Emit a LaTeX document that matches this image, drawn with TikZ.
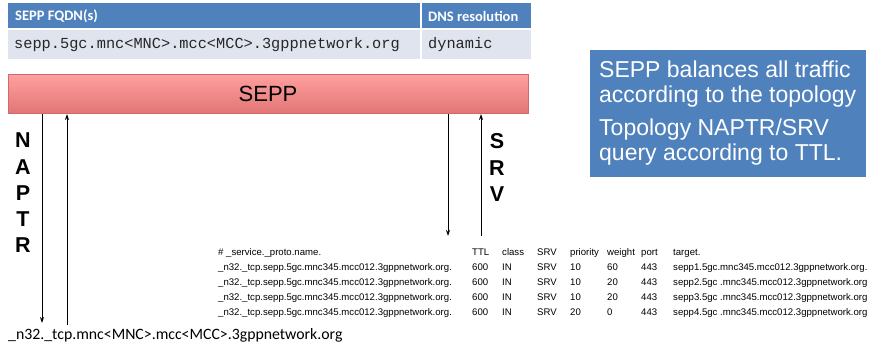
\documentclass[tikz,border=0pt]{standalone}
\usepackage{fontspec}
\setmainfont{Liberation Sans}
\newfontfamily\monof{Liberation Mono}
\newfontfamily\calib{Carlito}
\usetikzlibrary{arrows.meta}
\definecolor{hblue}{HTML}{4F81BD}
\definecolor{rowbg}{HTML}{DFE4EE}
\definecolor{seppTop}{HTML}{FFA0A0}
\definecolor{seppBot}{HTML}{E27676}
\definecolor{seppBorder}{HTML}{D26A6A}
\tikzset{
  hcell/.style={fill=hblue, draw=none},
  rcell/.style={fill=rowbg, draw=none},
  htext/.style={anchor=west, text=white, font=\calib\bfseries\fontsize{14.5}{16}\selectfont, inner sep=0pt},
  rtext/.style={anchor=west, font=\monof\fontsize{15.3}{17}\selectfont, text=black!85, inner sep=0pt},
  bigletter/.style={font=\bfseries\fontsize{21.5}{24}\selectfont, inner sep=0pt},
  arr/.style={-{Stealth[length=6pt,width=4pt]}, line width=0.9pt},
  srvt/.style={anchor=base west, font=\fontsize{9.6}{11}\selectfont, inner sep=0pt},
  note/.style={font=\fontsize{23}{26}\selectfont, text=white, inner sep=0pt, anchor=base west}
}
\begin{document}
\begin{tikzpicture}[x=1pt,y=-1pt]
\useasboundingbox (0,0) rectangle (872,348);
% table
\fill[hcell] (8,3) rectangle (420,28);
\fill[hcell] (422,3) rectangle (531,28);
\fill[rcell] (8,30) rectangle (420,59);
\fill[rcell] (422,30) rectangle (531,59);
\node[htext] (h1) at (15,16) {SEPP FQDN(s)};
\node[htext] (h2) at (428,16) {DNS resolution};
\node[rtext] (r1) at (14,45) {sepp.5gc.mnc<MNC>.mcc<MCC>.3gppnetwork.org};
\node[rtext] (r2) at (428,45) {dynamic};
% SEPP bar
\shade[top color=seppTop, bottom color=seppBot, draw=seppBorder, line width=0.5pt] (8,74) rectangle (528,113);
\node[font=\fontsize{22}{24}\selectfont, inner sep=0pt] (sepp) at (268,94) {SEPP};
% NAPTR arrows
\coordinate (a1s) at (42,114);
\coordinate (a1e) at (42,323);
\coordinate (a2s) at (67,325);
\coordinate (a2e) at (67,114);
\draw[arr] (a1s) -- (a1e);
\draw[arr] (a2s) -- (a2e);
\node[bigletter] (lN) at (23,140) {N};
\node[bigletter] (lA) at (23,167) {A};
\node[bigletter] (lP) at (23,193) {P};
\node[bigletter] (lT) at (23,219.5) {T};
\node[bigletter] (lR) at (23,245) {R};
% SRV arrows
\coordinate (b1s) at (448,114);
\coordinate (b1e) at (448,236);
\coordinate (b2s) at (481,236);
\coordinate (b2e) at (481,114);
\draw[arr] (b1s) -- (b1e);
\draw[arr] (b2s) -- (b2e);
\node[bigletter] (lS) at (497,141) {S};
\node[bigletter] (lR2) at (497,168) {R};
\node[bigletter] (lV) at (497,194) {V};
% bottom query
\node[anchor=base west, font=\calib\fontsize{15.8}{17}\selectfont, inner sep=0pt] (q) at (8,339) {\_n32.\_tcp.mnc<MNC>.mcc<MCC>.3gppnetwork.org};
% note box
\fill[hblue] (590,50) rectangle (866,177);
\node[note] (nt1) at (599,77) {SEPP balances all traffic};
\node[note] (nt2) at (599,102.5) {according to the topology};
\node[note] (nt3) at (599,135) {Topology NAPTR/SRV};
\node[note] (nt4) at (599,160.5) {query according to TTL.};
% SRV records table
\node[srvt] (c0) at (218,255) {\# \_service.\_proto.name.};
\node[srvt] (c1) at (472,255) {TTL};
\node[srvt] (c2) at (502,255) {class};
\node[srvt] (c3) at (537,255) {SRV};
\node[srvt] (c4) at (570,255) {priority};
\node[srvt] (c5) at (607,255) {weight};
\node[srvt] (c6) at (641,255) {port};
\node[srvt] (c7) at (673,255) {target.};
\foreach \y/\p/\w/\t in {270/10/60/{sepp1.5gc.mnc345.mcc012.3gppnetwork.org.},285/10/20/{sepp2.5gc .mnc345.mcc012.3gppnetwork.org},300/10/20/{sepp3.5gc .mnc345.mcc012.3gppnetwork.org},315/20/0/{sepp4.5gc .mnc345.mcc012.3gppnetwork.org}}{
  \node[srvt] at (218,\y) {\_n32.\_tcp.sepp.5gc.mnc345.mcc012.3gppnetwork.org.};
  \node[srvt] at (472,\y) {600};
  \node[srvt] at (502,\y) {IN};
  \node[srvt] at (537,\y) {SRV};
  \node[srvt] at (570,\y) {\p};
  \node[srvt] at (607,\y) {\w};
  \node[srvt] at (641,\y) {443};
  \node[srvt] at (673,\y) {\t};
}
\end{tikzpicture}
\end{document}
